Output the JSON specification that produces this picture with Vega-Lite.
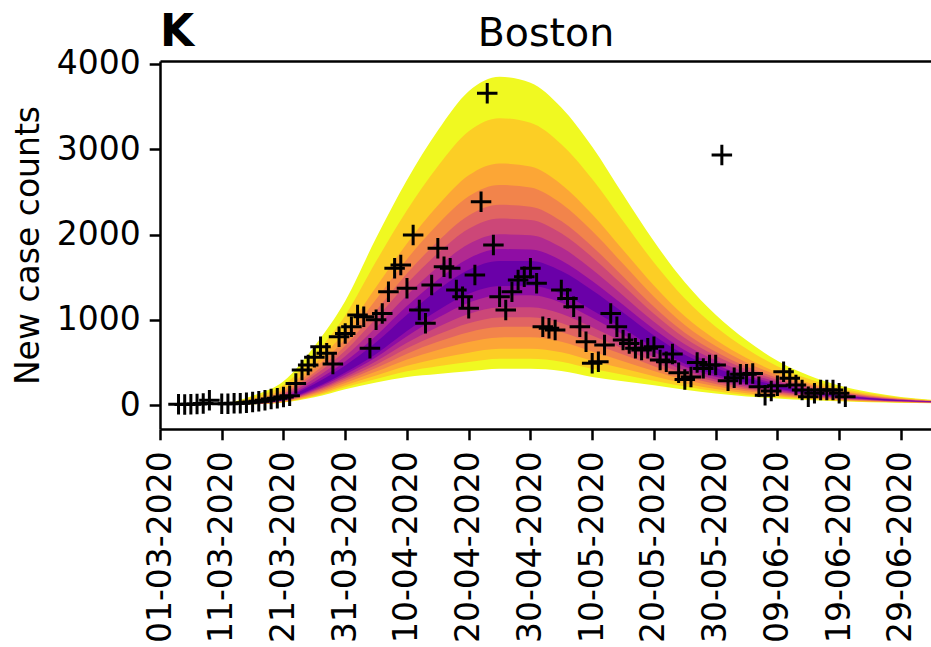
{
  "$schema": "https://vega.github.io/schema/vega-lite/v6.json",
  "width": 771,
  "height": 368,
  "autosize": {"type": "none"},
  "padding": {"left": 160, "top": 61, "right": 0, "bottom": 218},
  "background": "white",
  "config": {
    "view": {"stroke": null},
    "font": "DejaVu Sans",
    "axis": {
      "grid": false,
      "domainColor": "black",
      "domainWidth": 2.5,
      "tickColor": "black",
      "tickWidth": 2.5,
      "tickSize": 10.8,
      "labelFont": "DejaVu Sans",
      "labelFontSize": 33,
      "labelColor": "black",
      "labelPadding": 9,
      "labelLimit": 0,
      "titleFont": "DejaVu Sans",
      "titleFontSize": 33,
      "titleFontWeight": "normal",
      "titleColor": "black"
    }
  },
  "title": {
    "text": "K",
    "anchor": "start",
    "frame": "group",
    "font": "DejaVu Sans",
    "fontSize": 44,
    "fontWeight": "bold",
    "color": "black",
    "baseline": "alphabetic",
    "offset": -31,
    "dy": 46
  },
  "datasets": {
    "bands": [
      {"date": "2020-03-11", "band": 1, "lo": 0, "hi": 8},
      {"date": "2020-03-16", "band": 1, "lo": 8, "hi": 110},
      {"date": "2020-03-21", "band": 1, "lo": 30, "hi": 280},
      {"date": "2020-03-26", "band": 1, "lo": 90, "hi": 690},
      {"date": "2020-03-31", "band": 1, "lo": 185, "hi": 1220},
      {"date": "2020-04-05", "band": 1, "lo": 265, "hi": 1960},
      {"date": "2020-04-10", "band": 1, "lo": 330, "hi": 2640},
      {"date": "2020-04-15", "band": 1, "lo": 365, "hi": 3220},
      {"date": "2020-04-20", "band": 1, "lo": 395, "hi": 3680},
      {"date": "2020-04-25", "band": 1, "lo": 425, "hi": 3850},
      {"date": "2020-04-30", "band": 1, "lo": 425, "hi": 3780},
      {"date": "2020-05-05", "band": 1, "lo": 400, "hi": 3490},
      {"date": "2020-05-10", "band": 1, "lo": 330, "hi": 3030},
      {"date": "2020-05-15", "band": 1, "lo": 280, "hi": 2470},
      {"date": "2020-05-20", "band": 1, "lo": 232, "hi": 1920},
      {"date": "2020-05-25", "band": 1, "lo": 180, "hi": 1440},
      {"date": "2020-05-30", "band": 1, "lo": 135, "hi": 1060},
      {"date": "2020-06-04", "band": 1, "lo": 100, "hi": 760},
      {"date": "2020-06-09", "band": 1, "lo": 78, "hi": 520},
      {"date": "2020-06-14", "band": 1, "lo": 58, "hi": 350},
      {"date": "2020-06-19", "band": 1, "lo": 44, "hi": 230},
      {"date": "2020-06-24", "band": 1, "lo": 34, "hi": 150},
      {"date": "2020-06-29", "band": 1, "lo": 27, "hi": 95},
      {"date": "2020-07-04", "band": 1, "lo": 22, "hi": 62},

      {"date": "2020-03-11", "band": 2, "lo": 0, "hi": 7},
      {"date": "2020-03-16", "band": 2, "lo": 9, "hi": 91},
      {"date": "2020-03-21", "band": 2, "lo": 34, "hi": 235},
      {"date": "2020-03-26", "band": 2, "lo": 103, "hi": 590},
      {"date": "2020-03-31", "band": 2, "lo": 209, "hi": 1050},
      {"date": "2020-04-05", "band": 2, "lo": 305, "hi": 1685},
      {"date": "2020-04-10", "band": 2, "lo": 395, "hi": 2285},
      {"date": "2020-04-15", "band": 2, "lo": 455, "hi": 2800},
      {"date": "2020-04-20", "band": 2, "lo": 505, "hi": 3210},
      {"date": "2020-04-25", "band": 2, "lo": 542, "hi": 3365},
      {"date": "2020-04-30", "band": 2, "lo": 543, "hi": 3311},
      {"date": "2020-05-05", "band": 2, "lo": 509, "hi": 3060},
      {"date": "2020-05-10", "band": 2, "lo": 425, "hi": 2652},
      {"date": "2020-05-15", "band": 2, "lo": 355, "hi": 2159},
      {"date": "2020-05-20", "band": 2, "lo": 285, "hi": 1672},
      {"date": "2020-05-25", "band": 2, "lo": 217, "hi": 1249},
      {"date": "2020-05-30", "band": 2, "lo": 162, "hi": 919},
      {"date": "2020-06-04", "band": 2, "lo": 119, "hi": 660},
      {"date": "2020-06-09", "band": 2, "lo": 92, "hi": 455},
      {"date": "2020-06-14", "band": 2, "lo": 68, "hi": 308},
      {"date": "2020-06-19", "band": 2, "lo": 50, "hi": 204},
      {"date": "2020-06-24", "band": 2, "lo": 38, "hi": 134},
      {"date": "2020-06-29", "band": 2, "lo": 30, "hi": 86},
      {"date": "2020-07-04", "band": 2, "lo": 24, "hi": 57},

      {"date": "2020-03-11", "band": 3, "lo": 0, "hi": 5},
      {"date": "2020-03-16", "band": 3, "lo": 10, "hi": 70},
      {"date": "2020-03-21", "band": 3, "lo": 37, "hi": 185},
      {"date": "2020-03-26", "band": 3, "lo": 116, "hi": 481},
      {"date": "2020-03-31", "band": 3, "lo": 232, "hi": 864},
      {"date": "2020-04-05", "band": 3, "lo": 346, "hi": 1384},
      {"date": "2020-04-10", "band": 3, "lo": 460, "hi": 1896},
      {"date": "2020-04-15", "band": 3, "lo": 545, "hi": 2340},
      {"date": "2020-04-20", "band": 3, "lo": 614, "hi": 2694},
      {"date": "2020-04-25", "band": 3, "lo": 659, "hi": 2834},
      {"date": "2020-04-30", "band": 3, "lo": 660, "hi": 2797},
      {"date": "2020-05-05", "band": 3, "lo": 618, "hi": 2588},
      {"date": "2020-05-10", "band": 3, "lo": 519, "hi": 2238},
      {"date": "2020-05-15", "band": 3, "lo": 429, "hi": 1819},
      {"date": "2020-05-20", "band": 3, "lo": 339, "hi": 1401},
      {"date": "2020-05-25", "band": 3, "lo": 254, "hi": 1040},
      {"date": "2020-05-30", "band": 3, "lo": 189, "hi": 765},
      {"date": "2020-06-04", "band": 3, "lo": 139, "hi": 551},
      {"date": "2020-06-09", "band": 3, "lo": 106, "hi": 384},
      {"date": "2020-06-14", "band": 3, "lo": 77, "hi": 262},
      {"date": "2020-06-19", "band": 3, "lo": 57, "hi": 175},
      {"date": "2020-06-24", "band": 3, "lo": 42, "hi": 117},
      {"date": "2020-06-29", "band": 3, "lo": 32, "hi": 76},
      {"date": "2020-07-04", "band": 3, "lo": 25, "hi": 51},

      {"date": "2020-03-11", "band": 4, "lo": 1, "hi": 5},
      {"date": "2020-03-16", "band": 4, "lo": 11, "hi": 59},
      {"date": "2020-03-21", "band": 4, "lo": 42, "hi": 162},
      {"date": "2020-03-26", "band": 4, "lo": 131, "hi": 429},
      {"date": "2020-03-31", "band": 4, "lo": 259, "hi": 775},
      {"date": "2020-04-05", "band": 4, "lo": 392, "hi": 1240},
      {"date": "2020-04-10", "band": 4, "lo": 535, "hi": 1711},
      {"date": "2020-04-15", "band": 4, "lo": 647, "hi": 2120},
      {"date": "2020-04-20", "band": 4, "lo": 740, "hi": 2448},
      {"date": "2020-04-25", "band": 4, "lo": 793, "hi": 2580},
      {"date": "2020-04-30", "band": 4, "lo": 795, "hi": 2551},
      {"date": "2020-05-05", "band": 4, "lo": 743, "hi": 2363},
      {"date": "2020-05-10", "band": 4, "lo": 627, "hi": 2040},
      {"date": "2020-05-15", "band": 4, "lo": 514, "hi": 1656},
      {"date": "2020-05-20", "band": 4, "lo": 400, "hi": 1271},
      {"date": "2020-05-25", "band": 4, "lo": 296, "hi": 940},
      {"date": "2020-05-30", "band": 4, "lo": 219, "hi": 692},
      {"date": "2020-06-04", "band": 4, "lo": 161, "hi": 499},
      {"date": "2020-06-09", "band": 4, "lo": 122, "hi": 350},
      {"date": "2020-06-14", "band": 4, "lo": 88, "hi": 240},
      {"date": "2020-06-19", "band": 4, "lo": 64, "hi": 161},
      {"date": "2020-06-24", "band": 4, "lo": 47, "hi": 108},
      {"date": "2020-06-29", "band": 4, "lo": 35, "hi": 71},
      {"date": "2020-07-04", "band": 4, "lo": 27, "hi": 49},

      {"date": "2020-03-11", "band": 5, "lo": 1, "hi": 4},
      {"date": "2020-03-16", "band": 5, "lo": 12, "hi": 50},
      {"date": "2020-03-21", "band": 5, "lo": 45, "hi": 140},
      {"date": "2020-03-26", "band": 5, "lo": 145, "hi": 381},
      {"date": "2020-03-31", "band": 5, "lo": 284, "hi": 694},
      {"date": "2020-04-05", "band": 5, "lo": 434, "hi": 1109},
      {"date": "2020-04-10", "band": 5, "lo": 603, "hi": 1542},
      {"date": "2020-04-15", "band": 5, "lo": 741, "hi": 1920},
      {"date": "2020-04-20", "band": 5, "lo": 855, "hi": 2224},
      {"date": "2020-04-25", "band": 5, "lo": 916, "hi": 2349},
      {"date": "2020-04-30", "band": 5, "lo": 918, "hi": 2327},
      {"date": "2020-05-05", "band": 5, "lo": 858, "hi": 2158},
      {"date": "2020-05-10", "band": 5, "lo": 726, "hi": 1860},
      {"date": "2020-05-15", "band": 5, "lo": 592, "hi": 1508},
      {"date": "2020-05-20", "band": 5, "lo": 456, "hi": 1153},
      {"date": "2020-05-25", "band": 5, "lo": 334, "hi": 849},
      {"date": "2020-05-30", "band": 5, "lo": 247, "hi": 625},
      {"date": "2020-06-04", "band": 5, "lo": 181, "hi": 451},
      {"date": "2020-06-09", "band": 5, "lo": 136, "hi": 319},
      {"date": "2020-06-14", "band": 5, "lo": 98, "hi": 220},
      {"date": "2020-06-19", "band": 5, "lo": 71, "hi": 149},
      {"date": "2020-06-24", "band": 5, "lo": 52, "hi": 101},
      {"date": "2020-06-29", "band": 5, "lo": 38, "hi": 67},
      {"date": "2020-07-04", "band": 5, "lo": 29, "hi": 46},

      {"date": "2020-03-11", "band": 6, "lo": 1, "hi": 4},
      {"date": "2020-03-16", "band": 6, "lo": 13, "hi": 44},
      {"date": "2020-03-21", "band": 6, "lo": 49, "hi": 125},
      {"date": "2020-03-26", "band": 6, "lo": 158, "hi": 348},
      {"date": "2020-03-31", "band": 6, "lo": 307, "hi": 637},
      {"date": "2020-04-05", "band": 6, "lo": 473, "hi": 1017},
      {"date": "2020-04-10", "band": 6, "lo": 665, "hi": 1423},
      {"date": "2020-04-15", "band": 6, "lo": 827, "hi": 1780},
      {"date": "2020-04-20", "band": 6, "lo": 959, "hi": 2067},
      {"date": "2020-04-25", "band": 6, "lo": 1027, "hi": 2187},
      {"date": "2020-04-30", "band": 6, "lo": 1030, "hi": 2171},
      {"date": "2020-05-05", "band": 6, "lo": 962, "hi": 2014},
      {"date": "2020-05-10", "band": 6, "lo": 816, "hi": 1734},
      {"date": "2020-05-15", "band": 6, "lo": 663, "hi": 1404},
      {"date": "2020-05-20", "band": 6, "lo": 506, "hi": 1070},
      {"date": "2020-05-25", "band": 6, "lo": 369, "hi": 785},
      {"date": "2020-05-30", "band": 6, "lo": 273, "hi": 578},
      {"date": "2020-06-04", "band": 6, "lo": 200, "hi": 418},
      {"date": "2020-06-09", "band": 6, "lo": 149, "hi": 297},
      {"date": "2020-06-14", "band": 6, "lo": 108, "hi": 206},
      {"date": "2020-06-19", "band": 6, "lo": 77, "hi": 140},
      {"date": "2020-06-24", "band": 6, "lo": 56, "hi": 95},
      {"date": "2020-06-29", "band": 6, "lo": 41, "hi": 64},
      {"date": "2020-07-04", "band": 6, "lo": 31, "hi": 45},

      {"date": "2020-03-11", "band": 7, "lo": 1, "hi": 3},
      {"date": "2020-03-16", "band": 7, "lo": 14, "hi": 36},
      {"date": "2020-03-21", "band": 7, "lo": 53, "hi": 108},
      {"date": "2020-03-26", "band": 7, "lo": 171, "hi": 310},
      {"date": "2020-03-31", "band": 7, "lo": 330, "hi": 572},
      {"date": "2020-04-05", "band": 7, "lo": 513, "hi": 912},
      {"date": "2020-04-10", "band": 7, "lo": 730, "hi": 1288},
      {"date": "2020-04-15", "band": 7, "lo": 916, "hi": 1620},
      {"date": "2020-04-20", "band": 7, "lo": 1069, "hi": 1888},
      {"date": "2020-04-25", "band": 7, "lo": 1144, "hi": 2002},
      {"date": "2020-04-30", "band": 7, "lo": 1147, "hi": 1992},
      {"date": "2020-05-05", "band": 7, "lo": 1071, "hi": 1850},
      {"date": "2020-05-10", "band": 7, "lo": 911, "hi": 1590},
      {"date": "2020-05-15", "band": 7, "lo": 738, "hi": 1286},
      {"date": "2020-05-20", "band": 7, "lo": 560, "hi": 976},
      {"date": "2020-05-25", "band": 7, "lo": 406, "hi": 712},
      {"date": "2020-05-30", "band": 7, "lo": 300, "hi": 524},
      {"date": "2020-06-04", "band": 7, "lo": 219, "hi": 380},
      {"date": "2020-06-09", "band": 7, "lo": 163, "hi": 272},
      {"date": "2020-06-14", "band": 7, "lo": 117, "hi": 190},
      {"date": "2020-06-19", "band": 7, "lo": 83, "hi": 130},
      {"date": "2020-06-24", "band": 7, "lo": 60, "hi": 89},
      {"date": "2020-06-29", "band": 7, "lo": 43, "hi": 61},
      {"date": "2020-07-04", "band": 7, "lo": 32, "hi": 43},

      {"date": "2020-03-11", "band": 8, "lo": 2, "hi": 3},
      {"date": "2020-03-16", "band": 8, "lo": 16, "hi": 30},
      {"date": "2020-03-21", "band": 8, "lo": 57, "hi": 92},
      {"date": "2020-03-26", "band": 8, "lo": 186, "hi": 274},
      {"date": "2020-03-31", "band": 8, "lo": 358, "hi": 511},
      {"date": "2020-04-05", "band": 8, "lo": 561, "hi": 814},
      {"date": "2020-04-10", "band": 8, "lo": 807, "hi": 1161},
      {"date": "2020-04-15", "band": 8, "lo": 1023, "hi": 1470},
      {"date": "2020-04-20", "band": 8, "lo": 1200, "hi": 1720},
      {"date": "2020-04-25", "band": 8, "lo": 1284, "hi": 1829},
      {"date": "2020-04-30", "band": 8, "lo": 1287, "hi": 1824},
      {"date": "2020-05-05", "band": 8, "lo": 1201, "hi": 1696},
      {"date": "2020-05-10", "band": 8, "lo": 1023, "hi": 1455},
      {"date": "2020-05-15", "band": 8, "lo": 827, "hi": 1175},
      {"date": "2020-05-20", "band": 8, "lo": 623, "hi": 888},
      {"date": "2020-05-25", "band": 8, "lo": 450, "hi": 644},
      {"date": "2020-05-30", "band": 8, "lo": 331, "hi": 474},
      {"date": "2020-06-04", "band": 8, "lo": 242, "hi": 344},
      {"date": "2020-06-09", "band": 8, "lo": 180, "hi": 249},
      {"date": "2020-06-14", "band": 8, "lo": 129, "hi": 175},
      {"date": "2020-06-19", "band": 8, "lo": 91, "hi": 121},
      {"date": "2020-06-24", "band": 8, "lo": 65, "hi": 84},
      {"date": "2020-06-29", "band": 8, "lo": 46, "hi": 57},
      {"date": "2020-07-04", "band": 8, "lo": 34, "hi": 41},

      {"date": "2020-03-11", "band": 9, "lo": 2, "hi": 3},
      {"date": "2020-03-16", "band": 9, "lo": 17, "hi": 24},
      {"date": "2020-03-21", "band": 9, "lo": 60, "hi": 79},
      {"date": "2020-03-26", "band": 9, "lo": 199, "hi": 246},
      {"date": "2020-03-31", "band": 9, "lo": 381, "hi": 463},
      {"date": "2020-04-05", "band": 9, "lo": 600, "hi": 735},
      {"date": "2020-04-10", "band": 9, "lo": 869, "hi": 1060},
      {"date": "2020-04-15", "band": 9, "lo": 1109, "hi": 1350},
      {"date": "2020-04-20", "band": 9, "lo": 1304, "hi": 1586},
      {"date": "2020-04-25", "band": 9, "lo": 1395, "hi": 1690},
      {"date": "2020-04-30", "band": 9, "lo": 1399, "hi": 1690},
      {"date": "2020-05-05", "band": 9, "lo": 1305, "hi": 1573},
      {"date": "2020-05-10", "band": 9, "lo": 1113, "hi": 1347},
      {"date": "2020-05-15", "band": 9, "lo": 898, "hi": 1086},
      {"date": "2020-05-20", "band": 9, "lo": 674, "hi": 817},
      {"date": "2020-05-25", "band": 9, "lo": 485, "hi": 589},
      {"date": "2020-05-30", "band": 9, "lo": 357, "hi": 434},
      {"date": "2020-06-04", "band": 9, "lo": 261, "hi": 316},
      {"date": "2020-06-09", "band": 9, "lo": 193, "hi": 230},
      {"date": "2020-06-14", "band": 9, "lo": 138, "hi": 163},
      {"date": "2020-06-19", "band": 9, "lo": 97, "hi": 113},
      {"date": "2020-06-24", "band": 9, "lo": 69, "hi": 79},
      {"date": "2020-06-29", "band": 9, "lo": 49, "hi": 55},
      {"date": "2020-07-04", "band": 9, "lo": 36, "hi": 40}
    ],
    "cases": [
      {"date": "2020-03-04", "cases": 8},
      {"date": "2020-03-05", "cases": 5},
      {"date": "2020-03-06", "cases": 10},
      {"date": "2020-03-07", "cases": 12},
      {"date": "2020-03-08", "cases": 18},
      {"date": "2020-03-09", "cases": 55},
      {"date": "2020-03-11", "cases": 15},
      {"date": "2020-03-12", "cases": 15},
      {"date": "2020-03-13", "cases": 20},
      {"date": "2020-03-14", "cases": 22},
      {"date": "2020-03-15", "cases": 28},
      {"date": "2020-03-16", "cases": 35},
      {"date": "2020-03-17", "cases": 45},
      {"date": "2020-03-18", "cases": 55},
      {"date": "2020-03-19", "cases": 70},
      {"date": "2020-03-20", "cases": 80},
      {"date": "2020-03-21", "cases": 95},
      {"date": "2020-03-22", "cases": 110},
      {"date": "2020-03-23", "cases": 254},
      {"date": "2020-03-24", "cases": 411},
      {"date": "2020-03-25", "cases": 469},
      {"date": "2020-03-26", "cases": 560},
      {"date": "2020-03-27", "cases": 685},
      {"date": "2020-03-28", "cases": 606},
      {"date": "2020-03-29", "cases": 480},
      {"date": "2020-03-30", "cases": 801},
      {"date": "2020-03-31", "cases": 840},
      {"date": "2020-04-01", "cases": 918},
      {"date": "2020-04-02", "cases": 1056},
      {"date": "2020-04-03", "cases": 1036},
      {"date": "2020-04-04", "cases": 665},
      {"date": "2020-04-05", "cases": 1000},
      {"date": "2020-04-06", "cases": 1075},
      {"date": "2020-04-07", "cases": 1329},
      {"date": "2020-04-08", "cases": 1603},
      {"date": "2020-04-09", "cases": 1642},
      {"date": "2020-04-10", "cases": 1369},
      {"date": "2020-04-11", "cases": 1994},
      {"date": "2020-04-12", "cases": 1114},
      {"date": "2020-04-13", "cases": 958},
      {"date": "2020-04-14", "cases": 1408},
      {"date": "2020-04-15", "cases": 1838},
      {"date": "2020-04-16", "cases": 1622},
      {"date": "2020-04-17", "cases": 1603},
      {"date": "2020-04-18", "cases": 1349},
      {"date": "2020-04-19", "cases": 1270},
      {"date": "2020-04-20", "cases": 1134},
      {"date": "2020-04-21", "cases": 1525},
      {"date": "2020-04-22", "cases": 2385},
      {"date": "2020-04-23", "cases": 3656},
      {"date": "2020-04-24", "cases": 1877},
      {"date": "2020-04-25", "cases": 1270},
      {"date": "2020-04-26", "cases": 1114},
      {"date": "2020-04-27", "cases": 1329},
      {"date": "2020-04-28", "cases": 1466},
      {"date": "2020-04-29", "cases": 1505},
      {"date": "2020-04-30", "cases": 1603},
      {"date": "2020-05-01", "cases": 1427},
      {"date": "2020-05-02", "cases": 918},
      {"date": "2020-05-03", "cases": 900},
      {"date": "2020-05-04", "cases": 880},
      {"date": "2020-05-05", "cases": 1349},
      {"date": "2020-05-06", "cases": 1251},
      {"date": "2020-05-07", "cases": 1153},
      {"date": "2020-05-08", "cases": 918},
      {"date": "2020-05-09", "cases": 743},
      {"date": "2020-05-10", "cases": 489},
      {"date": "2020-05-11", "cases": 508},
      {"date": "2020-05-12", "cases": 704},
      {"date": "2020-05-13", "cases": 1075},
      {"date": "2020-05-14", "cases": 918},
      {"date": "2020-05-15", "cases": 762},
      {"date": "2020-05-16", "cases": 723},
      {"date": "2020-05-17", "cases": 665},
      {"date": "2020-05-18", "cases": 645},
      {"date": "2020-05-19", "cases": 665},
      {"date": "2020-05-20", "cases": 685},
      {"date": "2020-05-21", "cases": 528},
      {"date": "2020-05-22", "cases": 508},
      {"date": "2020-05-23", "cases": 600},
      {"date": "2020-05-24", "cases": 380},
      {"date": "2020-05-25", "cases": 300},
      {"date": "2020-05-26", "cases": 330},
      {"date": "2020-05-27", "cases": 500},
      {"date": "2020-05-28", "cases": 430},
      {"date": "2020-05-29", "cases": 469},
      {"date": "2020-05-30", "cases": 469},
      {"date": "2020-05-31", "cases": 2933},
      {"date": "2020-06-01", "cases": 285},
      {"date": "2020-06-02", "cases": 320},
      {"date": "2020-06-03", "cases": 362},
      {"date": "2020-06-04", "cases": 362},
      {"date": "2020-06-05", "cases": 370},
      {"date": "2020-06-06", "cases": 215},
      {"date": "2020-06-07", "cases": 115},
      {"date": "2020-06-08", "cases": 165},
      {"date": "2020-06-09", "cases": 225},
      {"date": "2020-06-10", "cases": 390},
      {"date": "2020-06-11", "cases": 313},
      {"date": "2020-06-12", "cases": 235},
      {"date": "2020-06-13", "cases": 176},
      {"date": "2020-06-14", "cases": 97},
      {"date": "2020-06-15", "cases": 137},
      {"date": "2020-06-16", "cases": 176},
      {"date": "2020-06-17", "cases": 176},
      {"date": "2020-06-18", "cases": 176},
      {"date": "2020-06-19", "cases": 137},
      {"date": "2020-06-20", "cases": 97}
    ]
  },
  "layer": [
    {
      "data": {"name": "bands"},
      "mark": {"type": "area", "interpolate": "monotone", "clip": true},
      "encoding": {
        "x": {
          "field": "date",
          "type": "temporal",
          "scale": {
            "type": "utc",
            "domain": [
              {"year": 2020, "month": 3, "date": 1, "utc": true},
              {"year": 2020, "month": 7, "date": 3, "hours": 21, "utc": true}
            ]
          },
          "axis": {
            "orient": "bottom",
            "title": null,
            "format": "%d-%m-%Y",
            "labelAngle": 270,
            "labelOverlap": false,
            "labelFlush": false,
            "labelBound": false,
            "labelPadding": 11,
            "values": [
              {"year": 2020, "month": 3, "date": 1, "utc": true},
              {"year": 2020, "month": 3, "date": 11, "utc": true},
              {"year": 2020, "month": 3, "date": 21, "utc": true},
              {"year": 2020, "month": 3, "date": 31, "utc": true},
              {"year": 2020, "month": 4, "date": 10, "utc": true},
              {"year": 2020, "month": 4, "date": 20, "utc": true},
              {"year": 2020, "month": 4, "date": 30, "utc": true},
              {"year": 2020, "month": 5, "date": 10, "utc": true},
              {"year": 2020, "month": 5, "date": 20, "utc": true},
              {"year": 2020, "month": 5, "date": 30, "utc": true},
              {"year": 2020, "month": 6, "date": 9, "utc": true},
              {"year": 2020, "month": 6, "date": 19, "utc": true},
              {"year": 2020, "month": 6, "date": 29, "utc": true}
            ]
          }
        },
        "y": {
          "field": "lo",
          "type": "quantitative",
          "scale": {"domain": [-281, 4035], "nice": false, "zero": false},
          "axis": {
            "title": "New case counts",
            "values": [0, 1000, 2000, 3000, 4000],
            "format": "d",
            "titlePadding": 11
          }
        },
        "y2": {"field": "hi"},
        "color": {
          "field": "band",
          "type": "ordinal",
          "scale": {
            "domain": [1, 2, 3, 4, 5, 6, 7, 8, 9],
            "range": ["#f0f921", "#fcce25", "#fca636", "#f2844b", "#e16462", "#cc4778", "#b12a90", "#8f0da4", "#6a00a8"]
          },
          "legend": null
        }
      }
    },
    {
      "data": {"name": "cases"},
      "mark": {
        "type": "point",
        "shape": "M-1,0L1,0M0,-1L0,1",
        "filled": false,
        "stroke": "black",
        "strokeWidth": 3,
        "size": 420,
        "opacity": 1,
        "clip": true
      },
      "encoding": {
        "x": {
          "field": "date",
          "type": "temporal",
          "axis": {
            "orient": "top",
            "labels": false,
            "ticks": false,
            "domain": true,
            "title": "Boston",
            "titleFontSize": 39.5,
            "titleBaseline": "alphabetic",
            "titlePadding": 16
          }
        },
        "y": {"field": "cases", "type": "quantitative"}
      }
    }
  ],
  "resolve": {"axis": {"x": "independent"}}
}
